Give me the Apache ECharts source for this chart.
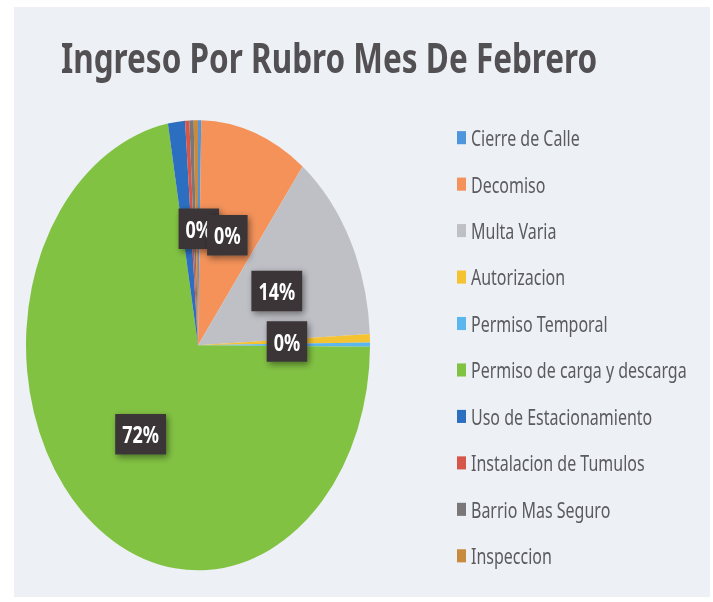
<!DOCTYPE html>
<html>
<head>
<meta charset="utf-8">
<script src="https://cdn.jsdelivr.net/npm/echarts@6/dist/echarts.min.js"></script>
<style>
html,body{margin:0;padding:0;background:#ffffff;}
#wrap{position:absolute;left:0;top:0;width:713px;height:602px;overflow:hidden;background:#ffffff;}
#bg{position:absolute;left:14px;top:7px;right:3px;bottom:5px;background:#edf0f4;}
#c{position:absolute;left:0;top:0;width:713px;height:460px;transform:scaleY(1.3087);transform-origin:0 0;}
</style>
</head>
<body>
<div id="wrap"><div id="bg"></div><div id="c"></div></div>
<script>
var titleText = 'Ingreso Por Rubro Mes De Febrero';
var categories = ['Cierre de Calle','Decomiso','Multa Varia','Autorizacion','Permiso Temporal','Permiso de carga y descarga','Uso de Estacionamiento','Instalacion de Tumulos','Barrio Mas Seguro','Inspeccion'];
var values = [0.3, 10.1, 13.8, 0.6, 0.3, 72.1, 1.6, 0.4, 0.4, 0.4];
var labelTexts = ['0%','0%','14%','0%','','72%','','','',''];
var colors = ['#4f95dc','#f4925a','#bfc0c6','#f5c232','#5cb6ee','#82c243','#2c6fc0','#d6574a','#7b7778','#c88a3c'];

var chart = echarts.init(document.getElementById('c'), null, {renderer:'svg'});
var data = categories.map(function(n,i){
  var lt = labelTexts[i];
  return {name:n, value:values[i], itemStyle:{color:colors[i]}, label:{show: lt !== ''}};
});
chart.setOption({
  animation:false,
  backgroundColor:'transparent',
  title:{
    text:titleText, left:56, top:23,
    textStyle:{fontFamily:'Noto Sans', fontWeight:'bold', fontSize:31.5, color:'#525053'}
  },
  legend:{
    orient:'vertical', left:452, top:91.2, itemWidth:9, itemHeight:10, itemGap:17.5,
    icon:'rect',
    textStyle:{fontFamily:'Noto Sans', fontSize:16, color:'#5a5a5f', lineHeight:18, padding:[0,0,0,0]},
    data:categories
  },
  series:[{
    type:'pie', center:[198,263.8], radius:172, startAngle:90, clockwise:true,
    data:data,
    avoidLabelOverlap:false,
    minShowLabelAngle:0,
    labelLayout:{hideOverlap:false},
    label:{
      position:'inside',
      formatter:function(p){ return labelTexts[p.dataIndex]; },
      fontFamily:'Noto Sans', fontWeight:'bold', fontSize:18, color:'#ffffff',
      backgroundColor:'#3a3637', padding:[7,7,6,7],
      shadowBlur:6, shadowColor:'rgba(0,0,0,0.45)', shadowOffsetX:2, shadowOffsetY:2
    },
    labelLine:{show:false},
    emphasis:{disabled:true},
    itemStyle:{borderWidth:0}
  }]
});
</script>
</body>
</html>
